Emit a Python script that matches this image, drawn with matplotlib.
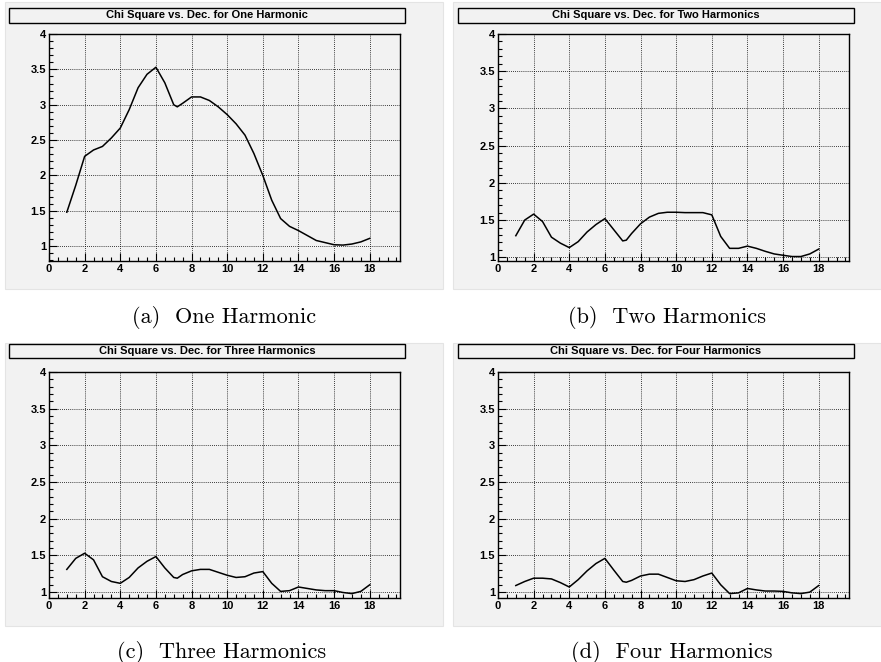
"""
Chi square vs. declination for one to four harmonics (ROOT style panels)
"""

import matplotlib
matplotlib.use("Agg")
import matplotlib.pyplot as plt
import matplotlib.ticker as ticker
from matplotlib.patches import Rectangle

# Figure size in pixels
W, H = 881, 662

# Declination values (every 0.5, plus the dip near 7.2)
dec = [1, 1.5, 2, 2.5, 3, 3.5, 4, 4.5, 5, 5.5, 6, 6.5, 7, 7.2, 7.5, 8, 8.5,
       9, 9.5, 10, 10.5, 11, 11.5, 12, 12.5, 13, 13.5, 14, 14.5, 15, 15.5,
       16, 16.5, 17, 17.5, 18]

chi_one = [1.48, 1.86, 2.27, 2.36, 2.41, 2.53, 2.67, 2.93, 3.24, 3.43, 3.53,
           3.31, 3.00, 2.97, 3.02, 3.11, 3.11, 3.06, 2.97, 2.86, 2.73, 2.57,
           2.31, 2.00, 1.65, 1.39, 1.28, 1.22, 1.15, 1.08, 1.05, 1.02, 1.015,
           1.03, 1.06, 1.11]

chi_two = [1.29, 1.50, 1.58, 1.48, 1.27, 1.19, 1.13, 1.21, 1.34, 1.44, 1.52,
           1.37, 1.22, 1.23, 1.32, 1.45, 1.54, 1.59, 1.605, 1.605, 1.60, 1.60,
           1.60, 1.57, 1.28, 1.12, 1.12, 1.15, 1.12, 1.08, 1.045, 1.027, 1.01,
           1.01, 1.045, 1.11]

chi_three = [1.31, 1.46, 1.53, 1.44, 1.21, 1.145, 1.12, 1.20, 1.33, 1.42,
             1.485, 1.33, 1.20, 1.19, 1.24, 1.29, 1.31, 1.31, 1.27, 1.23,
             1.20, 1.21, 1.26, 1.28, 1.12, 1.01, 1.02, 1.07, 1.05, 1.03, 1.02,
             1.02, 0.995, 0.98, 1.01, 1.10]

chi_four = [1.09, 1.145, 1.19, 1.19, 1.18, 1.13, 1.07, 1.17, 1.29, 1.39, 1.46,
            1.30, 1.145, 1.135, 1.16, 1.22, 1.245, 1.245, 1.20, 1.155, 1.145,
            1.17, 1.22, 1.26, 1.10, 0.98, 0.99, 1.05, 1.03, 1.015, 1.015,
            1.01, 0.99, 0.98, 1.00, 1.09]

titles = ["Chi Square vs. Dec. for One Harmonic",
          "Chi Square vs. Dec. for Two Harmonics",
          "Chi Square vs. Dec. for Three Harmonics",
          "Chi Square vs. Dec. for Four Harmonics"]
captions = ["(a)  One Harmonic", "(b)  Two Harmonics",
            "(c)  Three Harmonics", "(d)  Four Harmonics"]
series = [chi_one, chi_two, chi_three, chi_four]
y_min = [0.79, 0.95, 0.92, 0.92]

PANEL_GRAY = "#f2f2f2"


def px_rect(x0, y0, x1, y1):
    # pixel box (top-left origin) -> figure fraction [left, bottom, w, h]
    return [x0 / W, 1 - y1 / H, (x1 - x0) / W, (y1 - y0) / H]


fig = plt.figure(figsize=(W / 100, H / 100), dpi=100)
fig.patch.set_facecolor("white")

# Pixel layout of each panel: gray pad, title box, axes frame, caption centre
layout = [
    dict(pad=(5, 2, 443, 289), title=(9, 8, 405, 23), axes=(49, 34, 400, 261), cap=(224, 317)),
    dict(pad=(453, 2, 881, 289), title=(458, 8, 854, 23), axes=(498, 34, 849, 261), cap=(667, 317)),
    dict(pad=(5, 343, 443, 626), title=(9, 344, 405, 358), axes=(49, 372, 400, 598), cap=(222, 652)),
    dict(pad=(453, 343, 881, 626), title=(458, 344, 854, 358), axes=(498, 372, 849, 598), cap=(672, 652)),
]

for i in range(4):
    lay = layout[i]

    # Gray pad behind the plot
    l, b, w, h = px_rect(*lay["pad"])
    fig.patches.append(Rectangle((l, b), w, h, transform=fig.transFigure,
                                 facecolor=PANEL_GRAY, edgecolor="#e4e4e4",
                                 linewidth=0.8, zorder=-2))

    # Title box
    l, b, w, h = px_rect(*lay["title"])
    fig.patches.append(Rectangle((l, b), w, h, transform=fig.transFigure,
                                 facecolor=PANEL_GRAY, edgecolor="black",
                                 linewidth=1.0, zorder=-1))
    fig.text(l + w / 2, b + h / 2, titles[i], ha="center", va="center",
             fontsize=8, fontweight="bold", family="Liberation Sans", zorder=2)

    # Plot
    ax = fig.add_axes(px_rect(*lay["axes"]))
    ax.set_zorder(1)
    ax.set_facecolor(PANEL_GRAY)
    ax.plot(dec, series[i], color="black", linewidth=1.1, zorder=3)

    ax.set_xlim(0, 19.7)
    ax.set_ylim(y_min[i], 4)

    ax.xaxis.set_major_locator(ticker.MultipleLocator(2))
    ax.xaxis.set_minor_locator(ticker.MultipleLocator(0.5))
    ax.yaxis.set_major_locator(ticker.MultipleLocator(0.5))
    ax.yaxis.set_minor_locator(ticker.MultipleLocator(0.1))
    ax.yaxis.set_major_formatter(ticker.FormatStrFormatter("%g"))
    ax.xaxis.set_major_formatter(ticker.FormatStrFormatter("%g"))

    ax.tick_params(which="both", direction="in", top=False, right=False,
                   width=0.8, color="black")
    ax.tick_params(which="major", length=5.5, labelsize=8, pad=2)
    ax.tick_params(which="minor", length=2.8)
    for lab in ax.get_xticklabels() + ax.get_yticklabels():
        lab.set_fontweight("bold")
        lab.set_family("Liberation Sans")

    ax.grid(True, which="major", color="black", linestyle=(0, (1, 1.5)),
            linewidth=0.6)
    for sp in ax.spines.values():
        sp.set_linewidth(1.0)

    # Caption under the pad
    cx, cy = lay["cap"]
    fig.text(cx / W, 1 - cy / H, captions[i], ha="center", va="center",
             fontsize=16, family="cmr10")

fig.savefig("out.png", dpi=100)
